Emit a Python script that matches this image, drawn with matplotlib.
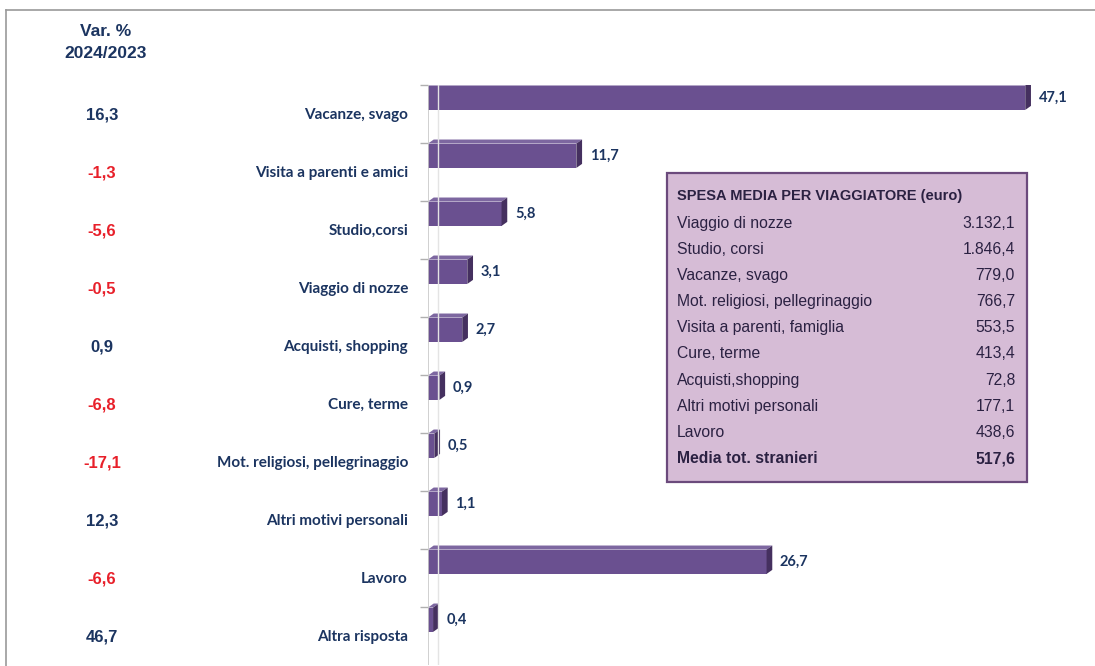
import matplotlib.pyplot as plt
from matplotlib.patches import Polygon, Rectangle

# dati
categorie = ["Vacanze, svago", "Visita a parenti e amici", "Studio,corsi", "Viaggio di nozze",
             "Acquisti, shopping", "Cure, terme", "Mot. religiosi, pellegrinaggio",
             "Altri motivi personali", "Lavoro", "Altra risposta"]
quote = [47.1, 11.7, 5.8, 3.1, 2.7, 0.9, 0.5, 1.1, 26.7, 0.4]
var_perc = [16.3, -1.3, -5.6, -0.5, 0.9, -6.8, -17.1, 12.3, -6.6, 46.7]

spesa_voci = ["Viaggio di nozze", "Studio, corsi", "Vacanze, svago", "Mot. religiosi, pellegrinaggio",
              "Visita a parenti, famiglia", "Cure, terme", "Acquisti,shopping",
              "Altri motivi personali", "Lavoro"]
spesa_valori = ["3.132,1", "1.846,4", "779,0", "766,7", "553,5", "413,4", "72,8", "177,1", "438,6"]
spesa_totale = "517,6"

W, H = 1095, 666
NAVY = "#1b3460"
RED = "#e8202a"

def px(x, y):
    return x / W, 1 - y / H

fig = plt.figure(figsize=(W / 100, H / 100), dpi=100)

# cornice grigia
fig.add_artist(plt.Line2D([6 / W, 1], [1 - 10 / H] * 2, color="#9a9a9a", lw=1.2))
fig.add_artist(plt.Line2D([6 / W] * 2, [0, 1 - 10 / H], color="#9a9a9a", lw=1.2))

# asse delle barre
ax = fig.add_axes([428 / W, 1 - 665 / H, (W - 428) / W, 580 / H])
n = len(quote)
ax.set_xlim(0, 52.6)
ax.set_ylim(n - 0.5, -0.5)
for s in ax.spines.values():
    s.set_visible(False)
ax.set_xticks([])
ax.set_yticks([i - 0.5 for i in range(n)])
ax.set_yticklabels([])
ax.tick_params(axis="y", length=6, color="#b0b0b0", width=1)
ax.axvline(0, color="#c8c8c8", lw=1.2)
ax.axvline(0.75, color="#e4e4e4", lw=1.0)

h = 0.42
dx, dy = 0.45, -0.07
for i, v in enumerate(quote):
    yc = i - 0.28
    yt, yb = yc - h / 2, yc + h / 2
    ax.add_patch(Rectangle((0, yt), v, h, facecolor="#6a5090", edgecolor="none"))
    ax.add_patch(Polygon([(0, yt), (v, yt), (v + dx, yt + dy), (dx, yt + dy)],
                         facecolor="#7d67a0", edgecolor="none"))
    ax.add_patch(Polygon([(v, yt), (v, yb), (v + dx, yb + dy), (v + dx, yt + dy)],
                         facecolor="#45305f", edgecolor="none"))
    ax.text(v + dx + 0.6, yc, f"{v:.1f}".replace(".", ","), ha="left", va="center",
            fontsize=10.5, fontweight="bold", color=NAVY, family="Lato")

# etichette categorie e variazioni
fig.text(*px(106, 31), "Var. %", ha="center", va="center", fontsize=12.5,
         fontweight="bold", color=NAVY, family="Liberation Sans")
fig.text(*px(106, 54), "2024/2023", ha="center", va="center", fontsize=12.5,
         fontweight="bold", color=NAVY, family="Liberation Sans")
for i, (c, v) in enumerate(zip(categorie, var_perc)):
    y = 115 + 58 * i
    fig.text(*px(408, y), c, ha="right", va="center", fontsize=11,
             fontweight="bold", color=NAVY, family="Lato")
    fig.text(*px(102, y), f"{v:.1f}".replace(".", ","), ha="center", va="center",
             fontsize=12, fontweight="bold", color=NAVY if v >= 0 else RED,
             family="Liberation Sans")

# riquadro spesa media
fig.add_artist(Rectangle(px(667, 482), 360 / W, 309 / H, transform=fig.transFigure,
                         facecolor="#d6bcd6", edgecolor="#6b4a7c", lw=1.6))
TXT = "#2b2142"
fig.text(*px(677, 196), "SPESA MEDIA PER VIAGGIATORE (euro)", ha="left", va="center",
         fontsize=10.5, fontweight="bold", color=TXT, family="Liberation Sans")
for k, (voce, val) in enumerate(zip(spesa_voci, spesa_valori)):
    y = 223 + 26.2 * k
    fig.text(*px(677, y), voce, ha="left", va="center", fontsize=11.3, color=TXT,
             family="Liberation Sans")
    fig.text(*px(1015, y), val, ha="right", va="center", fontsize=11.3, color=TXT,
             family="Liberation Sans")
y = 223 + 26.2 * len(spesa_voci)
fig.text(*px(677, y), "Media tot. stranieri", ha="left", va="center", fontsize=11.3,
         fontweight="bold", color=TXT, family="Liberation Sans")
fig.text(*px(1015, y), spesa_totale, ha="right", va="center", fontsize=11.3,
         fontweight="bold", color=TXT, family="Liberation Sans")

fig.savefig("out.png", dpi=100)
